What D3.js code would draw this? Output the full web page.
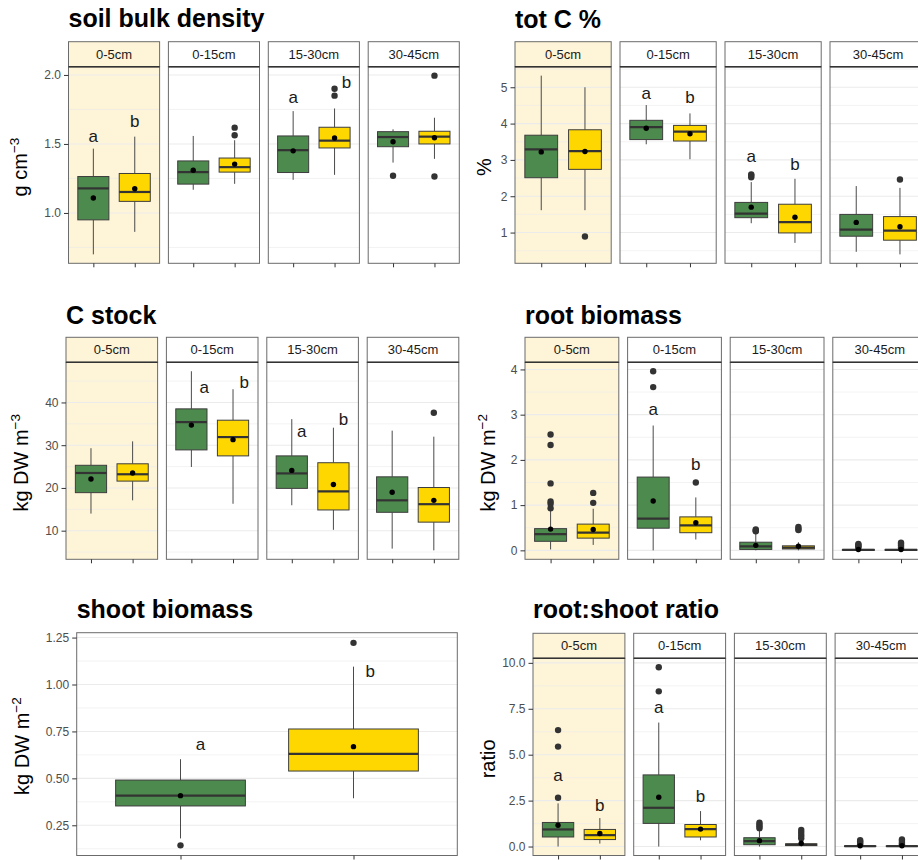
<!DOCTYPE html>
<html>
<head>
<meta charset="utf-8">
<script src="https://cdn.jsdelivr.net/npm/d3@7"></script>
<style>
  body { margin: 0; background: #fff; }
  text { font-family: "Liberation Sans", Arial, Helvetica, sans-serif; }
</style>
</head>
<body>
<svg id="chart" width="918" height="860"></svg>
<script>
// ---- categories ----
const depths = ["0-5cm", "0-15cm", "15-30cm", "30-45cm"];
const treatments = ["control", "treated"];

// ---- box statistics: per depth, per treatment [lower whisker, Q1, median, Q3, upper whisker] ----
const bulkDensityBoxes = [
  [[0.70, 0.95, 1.178, 1.264, 1.466], [0.863, 1.084, 1.152, 1.286, 1.553]],
  [[1.168, 1.209, 1.296, 1.377, 1.558], [1.211, 1.296, 1.332, 1.398, 1.527]],
  [[1.24, 1.293, 1.455, 1.558, 1.738], [1.276, 1.471, 1.524, 1.621, 1.757]],
  [[1.365, 1.48, 1.55, 1.589, 1.606], [1.392, 1.50, 1.553, 1.592, 1.69]]
];
const bulkDensityMeans = [[1.108, 1.175], [1.31, 1.354], [1.45, 1.543], [1.516, 1.545]];
const bulkDensityOutliers = [[[], []], [[], [1.563, 1.618]], [[], [1.85, 1.90]], [[1.27], [1.264, 1.995]]];
const bulkDensityLetters = [["a", "b"], ["", ""], ["a", "b"], ["", ""]];
const bulkDensityLetterY = [[1.517, 1.62], [0, 0], [1.798, 1.909], [0, 0]];

const totCBoxes = [
  [[1.616, 2.51, 3.29, 3.68, 5.32], [1.616, 2.74, 3.24, 3.83, 5.0]],
  [[3.43, 3.56, 3.90, 4.09, 4.51], [3.02, 3.52, 3.78, 3.95, 4.28]],
  [[1.257, 1.41, 1.52, 1.83, 2.39], [0.716, 0.99, 1.285, 1.78, 2.48]],
  [[0.47, 0.90, 1.08, 1.50, 2.28], [0.40, 0.79, 1.055, 1.44, 2.23]]
];
const totCMeans = [[3.22, 3.23], [3.87, 3.72], [1.70, 1.42], [1.28, 1.16]];
const totCOutliers = [[[], [0.89]], [[], []], [[2.52, 2.57, 2.6], []], [[], [2.46]]];
const totCLetters = [["", ""], ["a", "b"], ["a", "b"], ["", ""]];
const totCLetterY = [[0, 0], [4.69, 4.58], [2.94, 2.72], [0, 0]];

const cStockBoxes = [
  [[14.0, 18.9, 23.5, 25.3, 29.3], [17.1, 21.6, 23.2, 25.65, 30.9]],
  [[24.9, 28.9, 35.4, 38.5, 47.3], [16.3, 27.5, 31.9, 35.85, 43.1]],
  [[15.95, 19.9, 23.4, 27.5, 36.1], [10.2, 14.85, 19.2, 25.9, 34.1]],
  [[5.8, 14.3, 17.1, 22.6, 33.4], [5.4, 12.0, 16.2, 20.1, 32.0]]
];
const cStockMeans = [[22.1, 23.5], [34.7, 31.3], [24.1, 20.8], [19.0, 17.1]];
const cStockOutliers = [[[], []], [[], []], [[], []], [[], [37.6]]];
const cStockLetters = [["", ""], ["a", "b"], ["a", "b"], ["", ""]];
const cStockLetterY = [[0, 0], [42.2, 43.4], [31.9, 34.75], [0, 0]];

const rootBoxes = [
  [[0.02, 0.2, 0.36, 0.48, 0.88], [0.12, 0.27, 0.39, 0.58, 0.92]],
  [[0.0, 0.49, 0.70, 1.62, 2.76], [0.24, 0.39, 0.55, 0.74, 1.17]],
  [[0.0, 0.02, 0.09, 0.18, 0.38], [0.0, 0.03, 0.06, 0.10, 0.18]],
  [[0, 0, 0.01, 0.02, 0.04], [0, 0, 0.01, 0.02, 0.04]]
];
const rootMeans = [[0.47, 0.46], [1.09, 0.61], [0.11, 0.09], [0.02, 0.02]];
const rootOutliers = [
  [[0.93, 1.03, 1.08, 1.48, 2.33, 2.56], [1.05, 1.27]],
  [[3.61, 3.96], [1.50]],
  [[0.42, 0.44, 0.46], [0.45, 0.48, 0.52]],
  [[0.06, 0.09, 0.12, 0.14], [0.06, 0.1, 0.14, 0.17]]
];
const rootLetters = [["", ""], ["a", "b"], ["", ""], ["", ""]];
const rootLetterY = [[0, 0], [3.0, 1.785], [0, 0], [0, 0]];

const shootBoxes = [[[0.18, 0.353, 0.408, 0.491, 0.602], [0.394, 0.539, 0.63, 0.763, 1.095]]];
const shootMeans = [[0.408, 0.669]];
const shootOutliers = [[[0.143], [1.222]]];
const shootLetters = [["a", "b"]];
const shootLetterY = [[0.651, 1.039]];

const ratioBoxes = [
  [[0.0, 0.52, 0.93, 1.31, 2.35], [0.16, 0.38, 0.62, 0.93, 1.55]],
  [[0.0, 1.26, 2.11, 3.9, 6.75], [0.34, 0.52, 0.95, 1.2, 1.93]],
  [[0.0, 0.1, 0.3, 0.48, 0.9], [0, 0.05, 0.1, 0.15, 0.3]],
  [[0, 0, 0.02, 0.04, 0.08], [0, 0, 0.02, 0.04, 0.08]]
];
const ratioMeans = [[1.16, 0.71], [2.68, 0.95], [0.32, 0.18], [0.04, 0.04]];
const ratioOutliers = [
  [[2.66, 5.44, 6.34], []],
  [[8.45, 9.76], []],
  [[1.0, 1.1, 1.2, 1.3], [0.45, 0.6, 0.75, 0.9]],
  [[0.12, 0.2, 0.28, 0.35], [0.12, 0.2, 0.3, 0.38]]
];
const ratioLetters = [["a", "b"], ["a", "b"], ["", ""], ["", ""]];
const ratioLetterY = [[3.58, 1.91], [7.27, 2.42], [0, 0], [0, 0]];

// ---- y tick values ----
const bulkDensityTicks = [1.0, 1.5, 2.0];
const totCTicks = [1, 2, 3, 4, 5];
const cStockTicks = [10, 20, 30, 40];
const rootTicks = [0, 1, 2, 3, 4];
const shootTicks = [0.25, 0.50, 0.75, 1.00, 1.25];
const ratioTicks = [0, 2.5, 5, 7.5, 10];

// ---- styling ----
const fillColors = ["#4d8a4d", "#ffd700"];
const highlightBg = "#fef4d7";
const GAP = 8.8;

const svg = d3.select("#chart");

function drawPanel(p) {
  const g = svg.append("g");
  const nF = p.facets ? depths.length : 1;
  const stripH = p.facets ? 25 : 0;
  const bodyTop = p.top + stripH;
  const fw = (p.x1 - p.x0 - GAP * (nF - 1)) / nF;

  // shared y scale, data range expanded by 5% each side
  const vals = [];
  p.boxes.forEach(d => d.forEach(b => vals.push(b[0], b[4])));
  p.outliers.forEach(d => d.forEach(o => vals.push(...o)));
  const [lo, hi] = d3.extent(vals);
  const pad = (hi - lo) * 0.05;
  const y = d3.scaleLinear().domain([lo - pad, hi + pad]).range([p.bottom, bodyTop]);
  const step = p.ticks[1] - p.ticks[0];
  const minor = d3.range(p.ticks[0] - step / 2, hi + pad, step).filter(v => v >= lo - pad);

  for (let i = 0; i < nF; i++) {
    const fx = p.x0 + i * (fw + GAP);
    const x = d3.scalePoint().domain(treatments).range([fx, fx + fw]).padding(0.6);
    const bw = x.step() * 0.75;
    const highlight = p.facets && i === 0;
    const f = g.append("g");

    f.append("rect")
      .attr("x", fx).attr("y", bodyTop).attr("width", fw).attr("height", p.bottom - bodyTop)
      .attr("fill", highlight ? highlightBg : "#ffffff");

    f.selectAll("line.minor").data(minor).join("line").attr("class", "minor")
      .attr("x1", fx).attr("x2", fx + fw)
      .attr("y1", d => y(d)).attr("y2", d => y(d))
      .attr("stroke", "#ebebeb").attr("stroke-width", 0.6);
    f.selectAll("line.major").data(p.ticks).join("line").attr("class", "major")
      .attr("x1", fx).attr("x2", fx + fw)
      .attr("y1", d => y(d)).attr("y2", d => y(d))
      .attr("stroke", "#ebebeb").attr("stroke-width", 1.1);

    treatments.forEach((t, j) => {
      const b = p.boxes[i][j];
      const cx = x(t);
      // whiskers
      f.append("line").attr("x1", cx).attr("x2", cx).attr("y1", y(b[0])).attr("y2", y(b[1]))
        .attr("stroke", "#4a4a4a").attr("stroke-width", 1);
      f.append("line").attr("x1", cx).attr("x2", cx).attr("y1", y(b[3])).attr("y2", y(b[4]))
        .attr("stroke", "#4a4a4a").attr("stroke-width", 1);
      // box
      f.append("rect")
        .attr("x", cx - bw / 2).attr("y", y(b[3]))
        .attr("width", bw).attr("height", Math.max(0.5, y(b[1]) - y(b[3])))
        .attr("fill", fillColors[j]).attr("stroke", "#3d3d3d").attr("stroke-width", 1);
      // median
      f.append("line").attr("x1", cx - bw / 2).attr("x2", cx + bw / 2)
        .attr("y1", y(b[2])).attr("y2", y(b[2]))
        .attr("stroke", "#333333").attr("stroke-width", 2.2);
      // outliers
      f.selectAll(null).data(p.outliers[i][j]).join("circle")
        .attr("cx", cx).attr("cy", d => y(d)).attr("r", 3.2).attr("fill", "#333333");
      // mean
      f.append("circle").attr("cx", cx).attr("cy", y(p.means[i][j])).attr("r", 2.7).attr("fill", "#000");
      // significance letter, shifted sideways where it would sit on the points
      const lt = p.letters[i][j];
      if (lt) {
        const dx = p.nudge ? p.nudge[i][j] : 0;
        f.append("text")
          .attr("x", cx + dx * x.step()).attr("y", y(p.letterY[i][j]))
          .attr("text-anchor", "middle").attr("font-size", 17).attr("fill", "#1a1a1a")
          .text(lt);
      }
    });

    // panel border
    f.append("rect")
      .attr("x", fx).attr("y", bodyTop).attr("width", fw).attr("height", p.bottom - bodyTop)
      .attr("fill", "none").attr("stroke", "#6b6b6b").attr("stroke-width", 1);

    // strip
    if (p.facets) {
      f.append("rect")
        .attr("x", fx).attr("y", p.top).attr("width", fw).attr("height", stripH)
        .attr("fill", highlight ? highlightBg : "#ffffff")
        .attr("stroke", "#6b6b6b").attr("stroke-width", 1);
      f.append("line").attr("x1", fx).attr("x2", fx + fw).attr("y1", bodyTop).attr("y2", bodyTop)
        .attr("stroke", "#333").attr("stroke-width", 1.4);
      f.append("text")
        .attr("x", fx + fw / 2).attr("y", p.top + stripH / 2 + 4.6)
        .attr("text-anchor", "middle").attr("font-size", 13).attr("fill", "#1a1a1a")
        .text(depths[i]);
    }

    // x ticks (no labels)
    const xa = f.append("g").attr("transform", `translate(0,${p.bottom})`)
      .call(d3.axisBottom(x).tickSize(4).tickFormat(""));
    xa.select(".domain").remove();
    xa.selectAll(".tick line").attr("stroke", "#333").attr("stroke-width", 1);
  }

  // y axis
  const ya = g.append("g").attr("transform", `translate(${p.x0},0)`)
    .call(d3.axisLeft(y).tickValues(p.ticks).tickSize(4.5).tickPadding(3).tickFormat(d3.format(p.fmt)));
  ya.select(".domain").remove();
  ya.attr("font-family", null).attr("font-size", null);
  ya.selectAll(".tick line").attr("stroke", "#333").attr("stroke-width", 1);
  ya.selectAll(".tick text").attr("font-size", 12).attr("fill", "#4d4d4d");

  // title
  g.append("text").attr("x", p.x0).attr("y", p.titleY)
    .attr("font-size", 25).attr("font-weight", "bold").attr("fill", "#000")
    .text(p.title);

  // y axis title
  const yl = g.append("text")
    .attr("transform", `translate(${p.yLabelX},${(bodyTop + p.bottom) / 2 + 2}) rotate(-90)`)
    .attr("text-anchor", "middle").attr("font-size", 20).attr("fill", "#000");
  yl.append("tspan").text(p.yLabel[0]);
  if (p.yLabel[1]) {
    yl.append("tspan").attr("font-size", 13.5).attr("dy", -8).text(p.yLabel[1]);
  }
}

const panels = [
  { title: "soil bulk density", yLabel: ["g cm", "\u22123"], facets: true,
    x0: 68.5, x1: 459.3, top: 41.7, bottom: 263.3, titleY: 27, yLabelX: 27,
    boxes: bulkDensityBoxes, means: bulkDensityMeans, outliers: bulkDensityOutliers,
    letters: bulkDensityLetters, letterY: bulkDensityLetterY,
    nudge: [[0, 0], [0, 0], [0, 0.29], [0, 0]],
    ticks: bulkDensityTicks, fmt: ".1f" },
  { title: "tot C %", yLabel: ["%"], facets: true,
    x0: 515, x1: 926.2, top: 41.7, bottom: 263.3, titleY: 28, yLabelX: 491,
    boxes: totCBoxes, means: totCMeans, outliers: totCOutliers,
    letters: totCLetters, letterY: totCLetterY, nudge: null,
    ticks: totCTicks, fmt: "d" },
  { title: "C stock", yLabel: ["kg DW m", "\u22123"], facets: true,
    x0: 66, x1: 458.8, top: 337.3, bottom: 559.3, titleY: 324, yLabelX: 28,
    boxes: cStockBoxes, means: cStockMeans, outliers: cStockOutliers,
    letters: cStockLetters, letterY: cStockLetterY,
    nudge: [[0, 0], [0.31, 0.27], [0.24, 0.24], [0, 0]],
    ticks: cStockTicks, fmt: "d" },
  { title: "root biomass", yLabel: ["kg DW m", "\u22122"], facets: true,
    x0: 525, x1: 926.6, top: 337.3, bottom: 559.3, titleY: 324, yLabelX: 495,
    boxes: rootBoxes, means: rootMeans, outliers: rootOutliers,
    letters: rootLetters, letterY: rootLetterY, nudge: null,
    ticks: rootTicks, fmt: "d" },
  { title: "shoot biomass", yLabel: ["kg DW m", "\u22122"], facets: false,
    x0: 76.7, x1: 457.3, top: 632.7, bottom: 855.5, titleY: 618, yLabelX: 29,
    boxes: shootBoxes, means: shootMeans, outliers: shootOutliers,
    letters: shootLetters, letterY: shootLetterY,
    nudge: [[0.115, 0.097]],
    ticks: shootTicks, fmt: ".2f" },
  { title: "root:shoot ratio", yLabel: ["ratio"], facets: true,
    x0: 533, x1: 927, top: 633.3, bottom: 855.5, titleY: 618, yLabelX: 495,
    boxes: ratioBoxes, means: ratioMeans, outliers: ratioOutliers,
    letters: ratioLetters, letterY: ratioLetterY, nudge: null,
    ticks: ratioTicks, fmt: ".1f" }
];

panels.forEach(drawPanel);
</script>
</body>
</html>
